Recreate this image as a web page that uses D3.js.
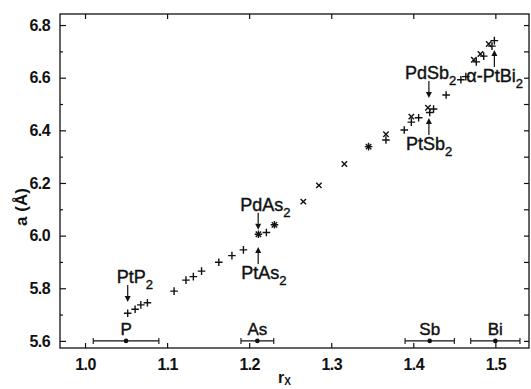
<!DOCTYPE html>
<html>
<head>
<meta charset="utf-8">
<script src="https://cdn.jsdelivr.net/npm/d3@7"></script>
<style>
  body { margin: 0; background: #fff; }
  svg text { font-family: "Liberation Sans", Arial, sans-serif; fill: #111; }
</style>
</head>
<body>
<svg id="chart" width="531" height="389"></svg>
<script>
// lattice constant a (Å) vs. anion radius r_X
const plusPts = [
  [1.052, 5.705], [1.061, 5.720], [1.068, 5.737], [1.076, 5.745],
  [1.1085, 5.789], [1.123, 5.831], [1.132, 5.844], [1.142, 5.865],
  [1.163, 5.899], [1.179, 5.924], [1.193, 5.946],
  [1.2113, 6.005], [1.221, 6.012], [1.2308, 6.041],
  [1.3455, 6.338], [1.3667, 6.363], [1.389, 6.401],
  [1.3976, 6.431], [1.4065, 6.448], [1.4247, 6.481], [1.420, 6.468],
  [1.440, 6.534], [1.458, 6.592], [1.464, 6.604],
  [1.4768, 6.660], [1.4858, 6.682], [1.4959, 6.720], [1.4988, 6.741]
];
const crossPts = [
  [1.2113, 6.005], [1.2308, 6.041], [1.266, 6.129], [1.285, 6.191],
  [1.316, 6.272], [1.3455, 6.338], [1.3667, 6.385], [1.3976, 6.452],
  [1.4179, 6.486], [1.4738, 6.668], [1.4818, 6.690], [1.4919, 6.728]
];
// anion radii with spread
const elements = ['P', 'As', 'Sb', 'Bi'];
const elemR = [1.05, 1.21, 1.42, 1.50];
const elemLo = [1.01, 1.19, 1.39, 1.47];
const elemHi = [1.09, 1.23, 1.45, 1.53];

const compounds = [
  { name: 'PtP', sub: '2', r: 1.052, a: 5.748, dir: 'down' },
  { name: 'PdAs', sub: '2', r: 1.211, a: 6.022, dir: 'down' },
  { name: 'PtAs', sub: '2', r: 1.211, a: 5.957, dir: 'up' },
  { name: 'PdSb', sub: '2', r: 1.419, a: 6.523, dir: 'down' },
  { name: 'PtSb', sub: '2', r: 1.419, a: 6.447, dir: 'up' },
  { name: 'α-PtBi', sub: '2', r: 1.4988, a: 6.705, dir: 'up' }
];

const xTicks = [1.0, 1.1, 1.2, 1.3, 1.4, 1.5];
const yTicks = [5.6, 5.8, 6.0, 6.2, 6.4, 6.6, 6.8];
const yMinor = [5.7, 5.9, 6.1, 6.3, 6.5, 6.7];

const plotL = 60, plotR = 529, plotT = 14, plotB = 348;
const x = d3.scaleLinear().domain([0.9695, 1.541]).range([plotL, plotR]);
const y = d3.scaleLinear().domain([5.573, 6.842]).range([plotB, plotT]);

const svg = d3.select('#chart');
const ink = '#111';

// frame
svg.append('rect')
  .attr('x', plotL).attr('y', plotT)
  .attr('width', plotR - plotL).attr('height', plotB - plotT)
  .attr('fill', 'none').attr('stroke', ink).attr('stroke-width', 1.3);

// axes with inward ticks
const tickStyle = g => {
  g.select('.domain').remove();
  g.selectAll('line').attr('stroke', ink).attr('stroke-width', 1.2);
  g.selectAll('text')
    .style('font-size', '16px').style('font-weight', 'bold')
    .style('letter-spacing', '-0.6px');
};

svg.append('g').attr('transform', `translate(0,${plotB})`)
  .call(d3.axisBottom(x).tickValues(xTicks).tickFormat(d3.format('.1f'))
    .tickSizeInner(-5).tickPadding(11))
  .call(tickStyle);

svg.append('g').attr('transform', `translate(0,${plotT})`)
  .call(d3.axisTop(x).tickValues(xTicks).tickSizeInner(-5).tickFormat(''))
  .call(tickStyle);

svg.append('g').attr('transform', `translate(${plotL},0)`)
  .call(d3.axisLeft(y).tickValues(yTicks).tickFormat(d3.format('.1f'))
    .tickSizeInner(-6).tickPadding(10))
  .call(tickStyle);

svg.append('g').attr('transform', `translate(${plotL},0)`)
  .call(d3.axisLeft(y).tickValues(yMinor).tickSizeInner(-3).tickFormat(''))
  .call(tickStyle);

svg.append('g').attr('transform', `translate(${plotR},0)`)
  .call(d3.axisRight(y).tickValues(yTicks.concat(yMinor)).tickSizeInner(-5).tickFormat(''))
  .call(tickStyle);

// axis titles
svg.append('text')
  .attr('transform', 'translate(27,207) rotate(-90)')
  .attr('text-anchor', 'middle')
  .style('font-size', '17px').style('font-weight', 'bold')
  .text('a (Å)');

const rx = svg.append('text')
  .attr('x', 278).attr('y', 383)
  .style('font-size', '16px').style('font-weight', 'bold');
rx.append('tspan').text('r');
rx.append('tspan').attr('dy', 2).style('font-size', '10px').text('X');

// anion radius bars
const eg = svg.append('g');
elements.forEach((el, i) => {
  const cy = y(5.6);
  eg.append('line')
    .attr('x1', x(elemLo[i])).attr('x2', x(elemHi[i]))
    .attr('y1', cy).attr('y2', cy)
    .attr('stroke', ink).attr('stroke-width', 1.1);
  [elemLo[i], elemHi[i]].forEach(v => {
    eg.append('line')
      .attr('x1', x(v)).attr('x2', x(v))
      .attr('y1', cy - 3).attr('y2', cy + 3)
      .attr('stroke', ink).attr('stroke-width', 1.1);
  });
  eg.append('circle')
    .attr('cx', x(elemR[i])).attr('cy', cy).attr('r', 2.3).attr('fill', ink);
  eg.append('text')
    .attr('x', x(elemR[i])).attr('y', cy - 6)
    .attr('text-anchor', 'middle')
    .style('font-size', '17px')
    .style('stroke', ink).style('stroke-width', 0.4)
    .text(el);
});

// markers
const plusSize = 3.8, crossSize = 2.7;
svg.append('g').selectAll('path')
  .data(plusPts).join('path')
  .attr('d', d => {
    const px = x(d[0]), py = y(d[1]);
    return `M${px - plusSize},${py}H${px + plusSize}M${px},${py - plusSize}V${py + plusSize}`;
  })
  .attr('stroke', ink).attr('stroke-width', 1.4).attr('fill', 'none');

svg.append('g').selectAll('path')
  .data(crossPts).join('path')
  .attr('d', d => {
    const px = x(d[0]), py = y(d[1]), s = crossSize;
    return `M${px - s},${py - s}L${px + s},${py + s}M${px - s},${py + s}L${px + s},${py - s}`;
  })
  .attr('stroke', ink).attr('stroke-width', 1.4).attr('fill', 'none');

// compound annotations with arrows
const labelShift = { 'PtP': -11, 'PdAs': -18, 'PtAs': -17, 'PdSb': -24, 'PtSb': -23, 'α-PtBi': -28 };
const ag = svg.append('g');
compounds.forEach(c => {
  const ax = x(c.r), tipY = y(c.a);
  const down = c.dir === 'down';
  const len = 17, head = 6;
  const tailY = down ? tipY - len : tipY + len;
  const baseY = down ? tipY - head : tipY + head;
  ag.append('line')
    .attr('x1', ax).attr('x2', ax).attr('y1', tailY).attr('y2', baseY)
    .attr('stroke', ink).attr('stroke-width', 1.2);
  ag.append('path')
    .attr('d', `M${ax - 3},${baseY}L${ax + 3},${baseY}L${ax},${tipY}Z`)
    .attr('fill', ink);
  const t = ag.append('text')
    .attr('x', ax + labelShift[c.name])
    .attr('y', down ? tailY - 2 : tailY + 15)
    .style('font-size', '18px')
    .style('stroke', ink).style('stroke-width', 0.4);
  t.append('tspan').text(c.name);
  t.append('tspan').attr('dy', 6).style('font-size', '13px').text(c.sub);
});
</script>
</body>
</html>
